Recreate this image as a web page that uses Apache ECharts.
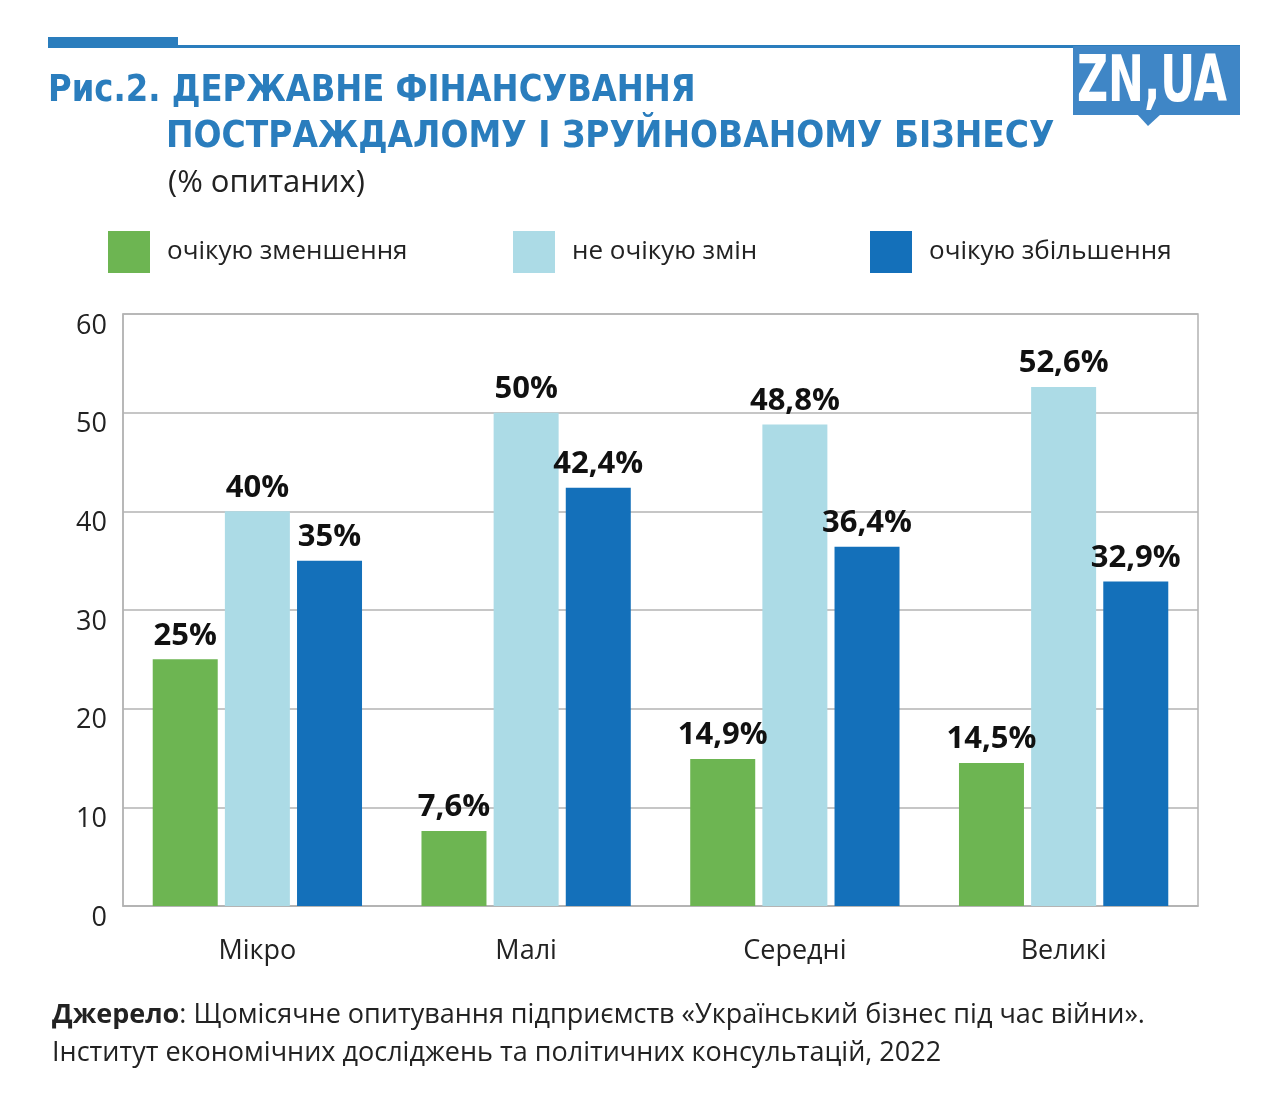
<!DOCTYPE html>
<html><head><meta charset="utf-8">
<script src="https://cdn.jsdelivr.net/npm/echarts@6/dist/echarts.min.js"></script>
<style>html,body{margin:0;padding:0;background:#fff}#c{width:1280px;height:1118px}</style>
</head><body><div id="c"></div>
<script>
const categories = ['Мікро', 'Малі', 'Середні', 'Великі'];
const seriesNames = ['очікую зменшення', 'не очікую змін', 'очікую збільшення'];
const decrease = [25, 7.6, 14.9, 14.5];
const noChange = [40, 50, 48.8, 52.6];
const increase = [35, 42.4, 36.4, 32.9];
const yTicks = [0, 10, 20, 30, 40, 50, 60];
const colors = ['#6db552', '#acdbe6', '#1470ba'];

const chart = echarts.init(document.getElementById('c'), null, {renderer: 'canvas'});
const bodyFont = '"Open Sans", "Noto Sans", sans-serif';
const titleFont = '"DejaVu Sans Condensed", "DejaVu Sans", sans-serif';
const fmt = p => String(p.value).replace('.', ',') + '%';
const mkSeries = (name, data, color) => ({
  name, type: 'bar', data, barWidth: 65, barGap: '11%',
  itemStyle: {color},
  label: {show: true, position: 'top', distance: 8, formatter: fmt,
    fontFamily: bodyFont, fontWeight: 'bold', fontSize: 31, color: '#111'}
});
const legendAt = (i, left) => ({
  data: [seriesNames[i]], left, top: 231, padding: 0, icon: 'rect', itemWidth: 42, itemHeight: 42,
  selectedMode: false,
  textStyle: {fontFamily: bodyFont, fontSize: 26, color: '#222', padding: [4, 0, 0, 12]}
});

chart.setOption({
  animation: false,
  grid: {left: 123, right: 82, top: 314, bottom: 212, show: true, borderColor: '#b3b3b3', borderWidth: 1.5},
  legend: [legendAt(0, 108), legendAt(1, 513), legendAt(2, 870)],
  xAxis: {type: 'category', data: categories,
    axisLine: {lineStyle: {color: '#b3b3b3', width: 1.5}}, axisTick: {show: false},
    axisLabel: {fontFamily: bodyFont, fontSize: 27, color: '#222', margin: 32}},
  yAxis: {type: 'value', min: yTicks[0], max: yTicks[yTicks.length - 1], interval: 10,
    axisLine: {show: true, lineStyle: {color: '#b3b3b3', width: 1.5}}, axisTick: {show: false},
    splitLine: {lineStyle: {color: '#b3b3b3', width: 1.5}},
    axisLabel: {fontFamily: bodyFont, fontSize: 27, color: '#222', margin: 16, verticalAlign: 'top', lineHeight: 24}},
  series: [mkSeries(seriesNames[0], decrease, colors[0]),
           mkSeries(seriesNames[1], noChange, colors[1]),
           mkSeries(seriesNames[2], increase, colors[2])],
  graphic: [
    {type: 'rect', shape: {x: 48, y: 37, width: 130, height: 11}, style: {fill: '#2a7dbd'}},
    {type: 'rect', shape: {x: 178, y: 45, width: 1062, height: 3}, style: {fill: '#2a7dbd'}},
    {type: 'rect', shape: {x: 1073, y: 46, width: 167, height: 69}, style: {fill: '#3f86c6'}},
    {type: 'polygon', shape: {points: [[1137, 114], [1161, 114], [1148, 126]]}, style: {fill: '#3f86c6'}},
    {type: 'text', x: 1077, y: 52, scaleX: 0.745, style: {text: 'ZN,UA', fill: '#fff', font: 'bold 64px ' + titleFont, textVerticalAlign: 'top'}},
    {type: 'text', x: 48, y: 73, scaleX: 0.97, style: {text: 'Рис.2. ДЕРЖАВНЕ ФІНАНСУВАННЯ', fill: '#2a7dbd', font: 'bold 37px ' + titleFont, textVerticalAlign: 'top'}},
    {type: 'text', x: 166, y: 119, scaleX: 0.99, style: {text: 'ПОСТРАЖДАЛОМУ І ЗРУЙНОВАНОМУ БІЗНЕСУ', fill: '#2a7dbd', font: 'bold 37px ' + titleFont, textVerticalAlign: 'top'}},
    {type: 'text', left: 168, top: 168, style: {text: '(% опитаних)', fill: '#222', font: '31px ' + bodyFont}},
    {type: 'text', left: 52, top: 1002, style: {
      text: '{b|Джерело}: Щомісячне опитування підприємств «Український бізнес під час війни».',
      fill: '#222', font: '27px ' + bodyFont,
      rich: {b: {fontWeight: 'bold', fontSize: 27, fontFamily: bodyFont, fill: '#222'}}}},
    {type: 'text', left: 52, top: 1040, style: {
      text: 'Інститут економічних досліджень та політичних консультацій, 2022',
      fill: '#222', font: '27px ' + bodyFont}}
  ]
});
</script></body></html>
